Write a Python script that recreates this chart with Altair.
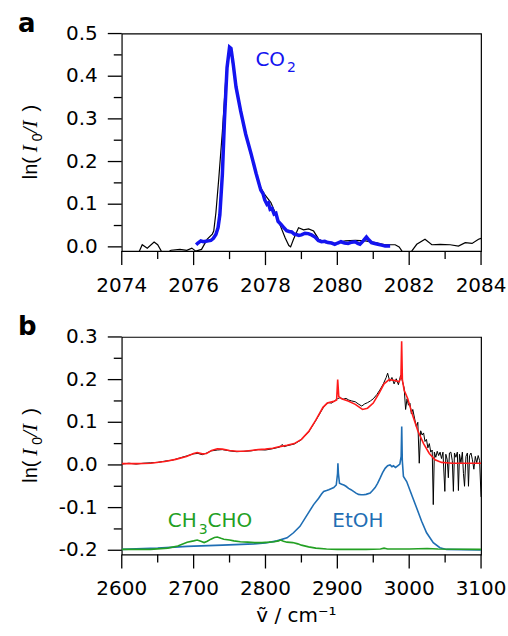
import altair as alt
import pandas as pd

# ---------------- Panel a data ----------------
a_black_x = [2074.48, 2074.57, 2074.71, 2074.9, 2075.0, 2075.1, 2075.2, 2075.3, 2075.37, 2075.62,
             2075.81, 2075.95, 2076.06, 2076.22, 2076.38, 2076.52, 2076.56, 2076.62, 2076.7, 2076.8,
             2076.9, 2076.98, 2077.03, 2077.1, 2077.2, 2077.31, 2077.45, 2077.58, 2077.72, 2077.86,
             2077.96, 2078.05, 2078.15, 2078.22, 2078.3, 2078.42, 2078.55, 2078.65, 2078.7, 2078.78,
             2078.92, 2079.06, 2079.2, 2079.34, 2079.48, 2079.67, 2079.94, 2080.22, 2080.5, 2080.78,
             2081.06, 2081.33, 2081.61, 2081.72, 2081.8, 2081.95, 2082.07, 2082.21, 2082.44, 2082.63,
             2082.86, 2083.14, 2083.37, 2083.56, 2083.75, 2083.93, 2084.0]
a_black_y = [-0.012, 0.005, -0.003, 0.0115, 0.005, -0.01, -0.02, -0.012, -0.008, -0.006,
             -0.008, -0.003, -0.01, -0.006, 0.018, 0.03, 0.037, 0.08, 0.16, 0.27,
             0.40, 0.455, 0.462, 0.42, 0.365, 0.317, 0.265, 0.22, 0.175, 0.14,
             0.125, 0.115, 0.104, 0.09, 0.075, 0.048, 0.021, 0.003, 0.0, 0.018,
             0.045, 0.04, 0.042, 0.037, 0.018, 0.01, 0.008, 0.014, 0.015, 0.014,
             0.01, 0.005, 0.005, 0.0, -0.01, -0.02, -0.01, 0.006, 0.018, 0.005,
             0.006, 0.005, 0.002, 0.01, 0.008, 0.018, 0.02]

a_blue_x = [2076.07, 2076.12, 2076.2, 2076.27, 2076.34, 2076.41, 2076.48, 2076.55, 2076.62, 2076.68,
            2076.73, 2076.8, 2076.86, 2076.93, 2077.0, 2077.04, 2077.1, 2077.18, 2077.31, 2077.45,
            2077.6, 2077.74, 2077.87, 2077.93, 2077.98, 2078.04, 2078.08, 2078.13, 2078.18, 2078.24,
            2078.29, 2078.35, 2078.44, 2078.52, 2078.59, 2078.66, 2078.73, 2078.8, 2078.86, 2078.93,
            2079.0, 2079.1, 2079.19, 2079.28, 2079.38, 2079.47, 2079.56, 2079.65, 2079.74, 2079.84,
            2079.93, 2080.01, 2080.1, 2080.2, 2080.3, 2080.4, 2080.5, 2080.57, 2080.63, 2080.72,
            2080.81, 2080.88, 2080.95, 2081.04, 2081.13, 2081.23, 2081.33, 2081.47]
a_blue_y = [0.005, 0.009, 0.014, 0.012, 0.013, 0.014, 0.015, 0.02, 0.029, 0.045,
            0.075, 0.17, 0.30, 0.42, 0.468, 0.465, 0.43, 0.375, 0.318, 0.264,
            0.218, 0.172, 0.133, 0.125, 0.11, 0.10, 0.103, 0.088, 0.09, 0.077,
            0.079, 0.06, 0.052, 0.044, 0.038, 0.036, 0.035, 0.03, 0.029, 0.027,
            0.028, 0.032, 0.031, 0.028, 0.023, 0.015, 0.012, 0.013, 0.01, 0.009,
            0.006, 0.009, 0.012, 0.009, 0.008, 0.011, 0.012, 0.008, 0.006, 0.014,
            0.023, 0.016, 0.01, 0.008, 0.006, 0.004, 0.002, 0.002]

a_xticks = [2074, 2076, 2078, 2080, 2082, 2084]
a_xlabels = ["2074", "2076", "2078", "2080", "2082", "2084"]
a_xminor = [2075, 2077, 2079, 2081, 2083]
a_yticks = [0.0, 0.1, 0.2, 0.3, 0.4, 0.5]
a_ylabels = ["0.0", "0.1", "0.2", "0.3", "0.4", "0.5"]
a_yminor = [0.05, 0.15, 0.25, 0.35, 0.45]

# ---------------- Panel b data ----------------
b_red_x = [2600, 2620, 2640, 2660, 2675, 2690, 2700, 2705, 2712, 2718, 2725, 2733, 2740, 2750, 2760,
           2770, 2780, 2790, 2800, 2810, 2820, 2830, 2840, 2850, 2860, 2870, 2880, 2886, 2895, 2899,
           2900.5, 2902, 2906, 2915, 2925, 2935, 2942, 2950, 2958, 2965, 2972, 2980, 2986, 2988.5,
           2989.5, 2990.5, 2993, 2998, 3005, 3012, 3020, 3028, 3036, 3045, 3060, 3100]
b_red_y = [0.003, 0.003, 0.004, 0.008, 0.013, 0.02, 0.027, 0.029, 0.026, 0.027, 0.034, 0.038, 0.037, 0.034, 0.032,
           0.032, 0.034, 0.036, 0.037, 0.039, 0.043, 0.046, 0.05, 0.06, 0.078, 0.105, 0.135, 0.145, 0.149, 0.152,
           0.2, 0.16, 0.155, 0.15, 0.142, 0.13, 0.133, 0.145, 0.168, 0.19, 0.2, 0.198, 0.195, 0.205,
           0.29, 0.2, 0.175, 0.155, 0.115, 0.08, 0.05, 0.027, 0.012, 0.006, 0.004, 0.004]

b_black_x = [2600, 2610, 2620, 2630, 2640, 2650, 2660, 2670, 2680, 2690, 2700, 2706, 2712, 2718, 2725,
             2733, 2740, 2750, 2760, 2770, 2780, 2790, 2800, 2810, 2820, 2823, 2826, 2830, 2840, 2850,
             2860, 2870, 2880, 2884, 2888, 2892, 2896, 2900, 2904, 2908, 2912, 2916, 2920, 2925, 2930,
             2934, 2938, 2942, 2946, 2950, 2955, 2960, 2964, 2968, 2970, 2973, 2976, 2979, 2982, 2985,
             2988, 2990, 2993, 2995, 2997, 2999, 3001, 3003, 3005, 3008, 3010, 3012, 3014, 3016, 3018,
             3020, 3022, 3024, 3026, 3028, 3030, 3032, 3033.5, 3035, 3037, 3039, 3041, 3043, 3045, 3047,
             3049.6, 3051, 3053, 3054.5, 3056, 3058, 3060, 3061.5, 3063, 3065, 3067, 3068.5, 3070, 3072,
             3074, 3075.5, 3077, 3079, 3081, 3082.5, 3084, 3086, 3088, 3090, 3092, 3094, 3096, 3098, 3100]
b_black_y = [0.002, 0.004, 0.002, 0.004, 0.005, 0.006, 0.009, 0.011, 0.016, 0.021, 0.026, 0.027, 0.024, 0.028, 0.033,
             0.035, 0.036, 0.033, 0.031, 0.032, 0.033, 0.036, 0.035, 0.038, 0.042, 0.048, 0.043, 0.045, 0.049, 0.059,
             0.077, 0.104, 0.133, 0.142, 0.146, 0.145, 0.15, 0.155, 0.158, 0.154, 0.156, 0.152, 0.15, 0.148, 0.142,
             0.138, 0.143, 0.146, 0.15, 0.155, 0.165, 0.178, 0.19, 0.205, 0.215, 0.196, 0.205, 0.19, 0.202, 0.188,
             0.21, 0.2, 0.18, 0.13, 0.155, 0.14, 0.145, 0.12, 0.13, 0.105, 0.09, 0.1, 0.004, 0.08, 0.07,
             0.075, 0.055, 0.06, 0.04, 0.05, 0.03, 0.035, -0.093, 0.03, 0.018, 0.032, 0.022, 0.03, 0.015, 0.03,
             -0.062, 0.025, 0.012, -0.03, 0.028, 0.03, 0.01, -0.062, 0.028, 0.018, 0.03, -0.06, 0.025, 0.005,
             0.03, -0.02, -0.05, 0.02, 0.028, -0.05, 0.022, 0.028, 0.012, -0.01, 0.02, 0.005, 0.022, 0.01, -0.075]

b_etoh_x = [2600, 2650, 2691, 2740, 2784, 2800, 2816, 2830, 2839, 2848, 2858, 2867, 2874, 2878, 2881,
            2885, 2888, 2892, 2895, 2898.5, 2900.3, 2900.8, 2901.5, 2903, 2906, 2909, 2912, 2915.6, 2919, 2922.5,
            2926, 2929.5, 2933, 2936.4, 2940, 2945.7, 2949, 2952.6, 2956, 2959.5, 2963, 2966.5, 2970, 2973.4, 2976,
            2978, 2981, 2984, 2987, 2988.8, 2989.6, 2990.4, 2992, 2996.5, 3003.4, 3010.4, 3017.3, 3024.2, 3033.5, 3042.7,
            3052, 3100]
b_etoh_y = [-0.198, -0.195, -0.191, -0.188, -0.185, -0.183, -0.178, -0.171, -0.159, -0.144, -0.117, -0.093, -0.078, -0.068, -0.062,
            -0.06, -0.058, -0.055, -0.053, -0.047, -0.02, 0.004, -0.02, -0.043, -0.045, -0.047, -0.05, -0.055, -0.058, -0.062,
            -0.066, -0.069, -0.07, -0.07, -0.069, -0.066, -0.06, -0.053, -0.043, -0.031, -0.018, -0.008, -0.002, 0.0, -0.004,
            -0.002, -0.006, -0.002, 0.002, 0.02, 0.09, 0.01, -0.027, -0.039, -0.07, -0.101, -0.132, -0.159, -0.182, -0.194,
            -0.198, -0.199]

b_ach_x = [2600, 2640, 2664, 2678, 2691, 2700, 2705, 2710, 2714.6, 2719, 2724, 2729, 2733, 2738, 2742,
           2750, 2756, 2765, 2775, 2785, 2795, 2805, 2812, 2818, 2821, 2825, 2830, 2838, 2845, 2850,
           2860, 2870, 2885, 2900, 2940, 2960, 2965, 2970, 3000, 3025, 3040, 3100]
b_ach_y = [-0.198, -0.198, -0.195, -0.19, -0.181, -0.178, -0.176, -0.179, -0.182, -0.179, -0.174, -0.17, -0.169, -0.172, -0.174,
           -0.176, -0.178, -0.18, -0.181, -0.182, -0.182, -0.181, -0.18, -0.178, -0.176, -0.179, -0.181, -0.182, -0.185, -0.188,
           -0.192, -0.195, -0.197, -0.198, -0.198, -0.197, -0.195, -0.197, -0.197, -0.196, -0.197, -0.198]

b_xticks = [2600, 2700, 2800, 2900, 3000, 3100]
b_xlabels = ["2600", "2700", "2800", "2900", "3000", "3100"]
b_xminor = [2650, 2750, 2850, 2950, 3050]
b_yticks = [-0.2, -0.1, 0.0, 0.1, 0.2, 0.3]
b_ylabels = ["-0.2", "-0.1", "0.0", "0.1", "0.2", "0.3"]
b_yminor = [-0.15, -0.05, 0.05, 0.15, 0.25]

LABEL_FONT = "DejaVu Sans"
W, H = 360, 218
MAJOR, MINOR = 14, 8


def df(xs, ys):
    return pd.DataFrame({"x": xs, "y": ys})


def build_panel(lines, texts, xdom, ydom, xmaj, xlab, xmin, ymaj, ylab, ymin, letter, xtitle=None):
    xs = alt.Scale(domain=xdom, nice=False, zero=False)
    ys = alt.Scale(domain=ydom, nice=False, zero=False)

    layers = []
    for d, color, width in lines:
        layers.append(
            alt.Chart(d).mark_line(color=color, strokeWidth=width, clip=True).encode(
                x=alt.X("x:Q", scale=xs, axis=None),
                y=alt.Y("y:Q", scale=ys, axis=None),
            )
        )
    # tick marks (outward) from the tick lists
    for vals, size in [(xmaj, MAJOR), (xmin, MINOR)]:
        layers.append(
            alt.Chart(pd.DataFrame({"v": vals})).mark_rule(color="black", strokeWidth=1.3).encode(
                x=alt.X("v:Q", scale=xs, axis=None),
                y=alt.value(H), y2=alt.value(H + size),
            )
        )
    for vals, size in [(ymaj, MAJOR), (ymin, MINOR)]:
        layers.append(
            alt.Chart(pd.DataFrame({"v": vals})).mark_rule(color="black", strokeWidth=1.3).encode(
                y=alt.Y("v:Q", scale=ys, axis=None),
                x=alt.value(-size), x2=alt.value(0),
            )
        )
    # tick labels
    layers.append(
        alt.Chart(pd.DataFrame({"v": xmaj, "lab": xlab})).mark_text(
            font=LABEL_FONT, fontSize=20, color="black", align="center", baseline="top"
        ).encode(x=alt.X("v:Q", scale=xs, axis=None), y=alt.value(H + 25), text="lab:N")
    )
    layers.append(
        alt.Chart(pd.DataFrame({"v": ymaj, "lab": ylab})).mark_text(
            font=LABEL_FONT, fontSize=20, color="black", align="right", baseline="middle"
        ).encode(y=alt.Y("v:Q", scale=ys, axis=None), x=alt.value(-24), text="lab:N")
    )
    if xtitle:
        layers.append(
            alt.Chart(pd.DataFrame({"t": [xtitle]})).mark_text(
                font=LABEL_FONT, fontSize=20, color="black", align="center", baseline="alphabetic"
            ).encode(x=alt.value(W / 2 - 5), y=alt.value(H + 68), text="t:N")
        )
    for t, tx, ty, color, size in texts:
        layers.append(
            alt.Chart(pd.DataFrame({"x": [tx], "y": [ty], "t": [t]})).mark_text(
                color=color, font=LABEL_FONT, fontSize=size, align="left", baseline="alphabetic"
            ).encode(
                x=alt.X("x:Q", scale=xs, axis=None),
                y=alt.Y("y:Q", scale=ys, axis=None),
                text="t:N",
            )
        )

    # composite y-axis title: ln( I0/I )
    c = H / 2
    pieces = [
        ("ln(", "Liberation Sans", "normal", 20, -85, c + 37),
        ("I", "Liberation Serif", "italic", 21, -85, c + 10),
        ("0", "Liberation Sans", "normal", 14, -80, c - 1),
        ("/I", "Liberation Serif", "italic", 21, -85, c - 9),
        (")", "Liberation Sans", "normal", 20, -85, c - 31),
    ]
    for t, font, style, size, px, py in pieces:
        layers.append(
            alt.Chart(pd.DataFrame({"t": [t]})).mark_text(
                font=font, fontStyle=style, fontSize=size, angle=270, align="left",
                baseline="alphabetic", color="black"
            ).encode(x=alt.value(px), y=alt.value(py), text="t:N")
        )
    # panel letter
    layers.append(
        alt.Chart(pd.DataFrame({"t": [letter]})).mark_text(
            font=LABEL_FONT, fontWeight="bold", fontSize=26, align="left", baseline="alphabetic",
            color="black"
        ).encode(x=alt.value(-104), y=alt.value(-2), text="t:N")
    )
    return alt.layer(*layers).properties(width=W, height=H)


panel_a = build_panel(
    lines=[(df(a_black_x, a_black_y), "black", 1.2), (df(a_blue_x, a_blue_y), "#1414f0", 3.5)],
    texts=[("CO", 2077.72, 0.424, "#1414f0", 20), ("2", 2078.6, 0.41, "#1414f0", 14)],
    xdom=[2074, 2084], ydom=[-0.01, 0.5],
    xmaj=a_xticks, xlab=a_xlabels, xmin=a_xminor, ymaj=a_yticks, ylab=a_ylabels, ymin=a_yminor,
    letter="a",
)

panel_b = build_panel(
    lines=[(df(b_black_x, b_black_y), "black", 1.0), (df(b_red_x, b_red_y), "#ff1a1a", 1.6),
           (df(b_etoh_x, b_etoh_y), "#1f6eb4", 1.6), (df(b_ach_x, b_ach_y), "#23a023", 1.6)],
    texts=[("EtOH", 2893, -0.145, "#1f6eb4", 20), ("CH", 2664, -0.145, "#23a023", 20),
           ("3", 2707, -0.161, "#23a023", 14), ("CHO", 2719.4, -0.145, "#23a023", 20)],
    xdom=[2600, 3100], ydom=[-0.21, 0.3],
    xmaj=b_xticks, xlab=b_xlabels, xmin=b_xminor, ymaj=b_yticks, ylab=b_ylabels, ymin=b_yminor,
    letter="b", xtitle="ṽ / cm⁻¹",
)

chart = alt.vconcat(panel_a, panel_b, spacing=16).properties(
    padding={"left": 17, "top": 9, "right": 0, "bottom": 0}
).configure_view(stroke="black", strokeWidth=1.2)

chart.save("out.html", embed_options={"renderer": "svg", "actions": False})
